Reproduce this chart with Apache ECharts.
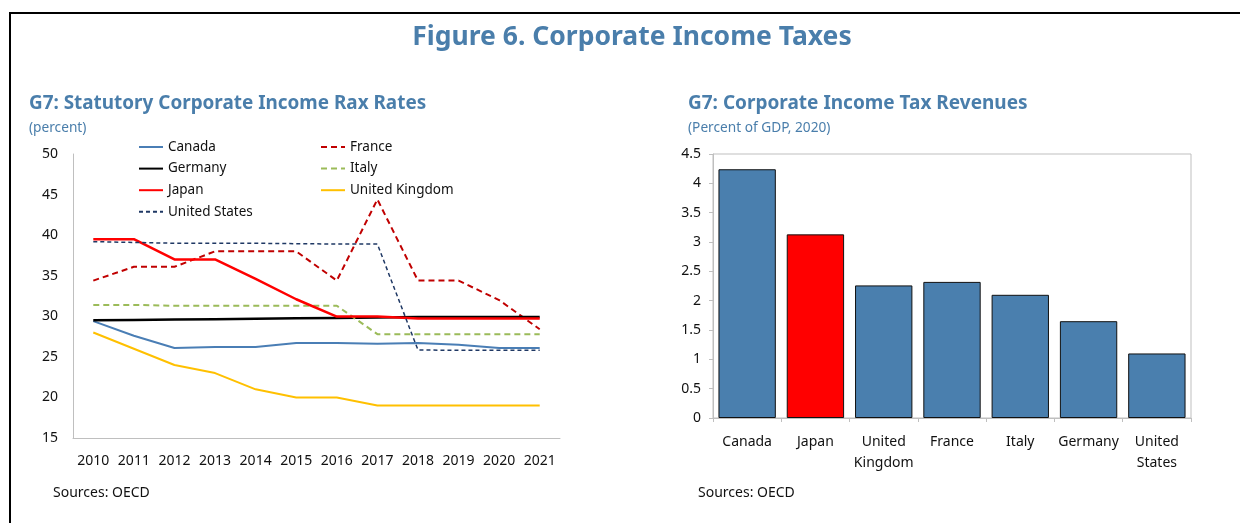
<!DOCTYPE html>
<html>
<head>
<meta charset="utf-8">
<script src="https://cdn.jsdelivr.net/npm/echarts@6/dist/echarts.min.js"></script>
<style>
  html, body { margin: 0; padding: 0; background: #fff; }
  #main { width: 1240px; height: 523px; }
</style>
</head>
<body>
<div id="main"></div>
<script>
    var years = ['2010', '2011', '2012', '2013', '2014', '2015', '2016', '2017', '2018', '2019', '2020', '2021'];

    // statutory rates (percent)
    var canada = [29.4, 27.6, 26.1, 26.2, 26.2, 26.7, 26.7, 26.6, 26.7, 26.5, 26.1, 26.1];
    var france = [34.4, 36.1, 36.1, 38.0, 38.0, 38.0, 34.4, 44.4, 34.4, 34.4, 32.0, 28.4];
    var germany = [29.5, 29.55, 29.6, 29.65, 29.7, 29.75, 29.8, 29.85, 29.9, 29.9, 29.9, 29.9];
    var italy = [31.4, 31.4, 31.3, 31.3, 31.3, 31.3, 31.3, 27.8, 27.8, 27.8, 27.8, 27.8];
    var japan = [39.5, 39.5, 37.0, 37.0, 34.6, 32.1, 29.97, 29.97, 29.74, 29.74, 29.74, 29.74];
    var uk = [28, 26, 24, 23, 21, 20, 20, 19, 19, 19, 19, 19];
    var us = [39.2, 39.1, 39.0, 39.0, 39.0, 38.95, 38.9, 38.9, 25.85, 25.8, 25.8, 25.8];

    // revenues (percent of GDP, 2020)
    var countries = ['Canada', 'Japan', 'United\nKingdom', 'France', 'Italy', 'Germany', 'United\nStates'];
    var revenues = [4.24, 3.13, 2.26, 2.32, 2.10, 1.65, 1.10];

    var blue = '#4a7eab';
    var font = 'Noto Sans';

    var myChart = echarts.init(document.getElementById('main'));

    function lineSeries(name, data, color, width, dash) {
        return {
            name: name,
            type: 'line',
            data: data,
            symbol: 'none',
            showSymbol: false,
            xAxisIndex: 0,
            yAxisIndex: 0,
            lineStyle: {color: color, width: width, type: dash || 'solid'},
            itemStyle: {color: color},
            z: 3
        };
    }

    var legendBase = {
        orient: 'vertical',
        top: 135,
        itemWidth: 24,
        itemHeight: 14,
        itemGap: 7.6,
        itemStyle: {opacity: 0},
        textStyle: {fontFamily: font, fontSize: 13.5, color: '#111'}
    };

    var option = {
        animation: false,
        textStyle: {fontFamily: font},
        graphic: [
            {type: 'rect', shape: {x: 10, y: 13, width: 1300, height: 600},
                style: {fill: 'none', stroke: '#000', lineWidth: 2}},
            {type: 'text', x: 632, y: 37, style: {text: 'Figure 6. Corporate Income Taxes', fill: blue,
                font: 'bold 26.5px "Noto Sans"', textAlign: 'center', textVerticalAlign: 'middle'}},
            {type: 'text', x: 29, y: 104, style: {text: 'G7: Statutory Corporate Income Rax Rates', fill: blue,
                font: 'bold 18.9px "Noto Sans"', textVerticalAlign: 'middle'}},
            {type: 'text', x: 29, y: 128, style: {text: '(percent)', fill: blue,
                font: '13.7px "Noto Sans"', textVerticalAlign: 'middle'}},
            {type: 'text', x: 688, y: 104, style: {text: 'G7: Corporate Income Tax Revenues', fill: blue,
                font: 'bold 19px "Noto Sans"', textVerticalAlign: 'middle'}},
            {type: 'text', x: 688, y: 128, style: {text: '(Percent of GDP, 2020)', fill: blue,
                font: '13.7px "Noto Sans"', textVerticalAlign: 'middle'}},
            {type: 'text', x: 53, y: 493, style: {text: 'Sources: OECD', fill: '#111',
                font: '14px "Noto Sans"', textVerticalAlign: 'middle'}},
            {type: 'text', x: 698, y: 493, style: {text: 'Sources: OECD', fill: '#111',
                font: '14px "Noto Sans"', textVerticalAlign: 'middle'}}
        ],
        legend: [
            Object.assign({}, legendBase, {left: 133, data: ['Canada', 'Germany', 'Japan', 'United States']}),
            Object.assign({}, legendBase, {left: 315, data: ['France', 'Italy', 'United Kingdom']})
        ],
        grid: [
            {left: 73, right: 680, top: 154, bottom: 85},
            {left: 713, right: 49, top: 154, bottom: 105, show: true, borderColor: '#bfbfbf', borderWidth: 1}
        ],
        xAxis: [
            {
                type: 'category', gridIndex: 0, data: years, boundaryGap: true,
                axisLine: {lineStyle: {color: '#bfbfbf'}},
                axisTick: {show: false},
                axisLabel: {color: '#111', fontSize: 14, margin: 16, interval: 0}
            },
            {
                type: 'category', gridIndex: 1, data: countries,
                axisLine: {lineStyle: {color: '#bfbfbf'}},
                axisTick: {show: true, length: 4, lineStyle: {color: '#bfbfbf'}},
                axisLabel: {color: '#111', fontSize: 14, margin: 14, lineHeight: 21, interval: 0}
            }
        ],
        yAxis: [
            {
                type: 'value', gridIndex: 0, min: 15, max: 50, interval: 5,
                axisLine: {show: true, lineStyle: {color: '#bfbfbf'}},
                axisTick: {show: false},
                splitLine: {show: false},
                axisLabel: {color: '#111', fontSize: 14, margin: 15}
            },
            {
                type: 'value', gridIndex: 1, min: 0, max: 4.5, interval: 0.5,
                axisLine: {show: true, lineStyle: {color: '#bfbfbf'}},
                axisTick: {show: true, length: 4, lineStyle: {color: '#bfbfbf'}},
                splitLine: {show: false},
                axisLabel: {color: '#111', fontSize: 14, margin: 12}
            }
        ],
        series: [
            lineSeries('Canada', canada, '#4a7eb5', 2),
            lineSeries('France', france, '#c00000', 2, [6, 4]),
            lineSeries('Germany', germany, '#000000', 2.5),
            lineSeries('Italy', italy, '#9bbb59', 2, [6, 4]),
            lineSeries('Japan', japan, '#ff0000', 2.5),
            lineSeries('United Kingdom', uk, '#ffc000', 2),
            lineSeries('United States', us, '#1f3864', 1.5, [4, 3]),
            {
                name: 'Revenues',
                type: 'bar',
                xAxisIndex: 1,
                yAxisIndex: 1,
                barCategoryGap: '16%',
                data: revenues.map(function (v, i) {
                    return {value: v, itemStyle: {color: countries[i] === 'Japan' ? '#ff0000' : '#4a7fae'}};
                }),
                itemStyle: {borderColor: '#111', borderWidth: 1}
            }
        ]
    };

    myChart.setOption(option);
    window.onresize = myChart.resize;
</script>
</body>
</html>
